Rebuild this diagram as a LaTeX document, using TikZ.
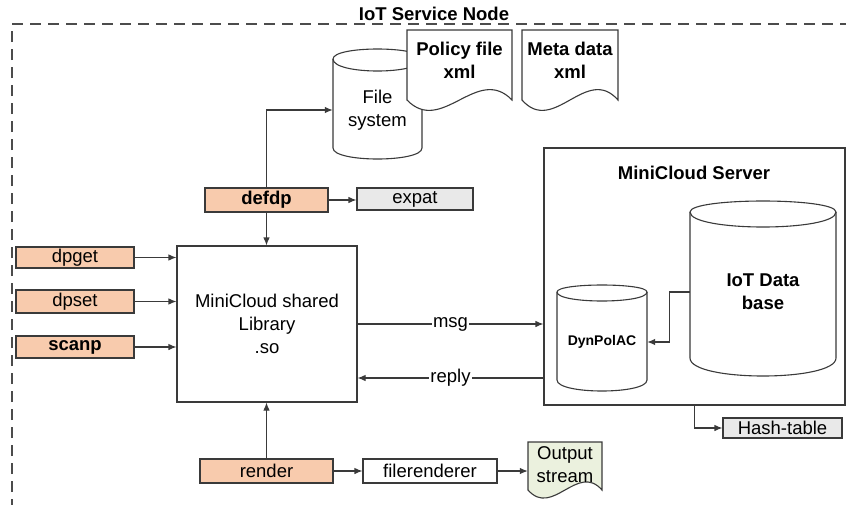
\documentclass[tikz,border=0pt]{standalone}
\usepackage{fontspec}
\setmainfont{Liberation Sans}
\usetikzlibrary{arrows.meta,calc,patterns}
\definecolor{orangefill}{HTML}{F8CBAD}
\definecolor{grayfill}{HTML}{E9E9E9}
\definecolor{greenfill}{HTML}{EBF1DE}
\definecolor{linec}{HTML}{3A3A3A}
\newcommand\drawcyl[7]{%
  \draw[ln,fill=white] (#1,#3) .. controls (#1,{#3-4/3*#4}) and (#2,{#3-4/3*#4}) .. (#2,#3)
     -- (#2,#6) .. controls (#2,{#6+4/3*#7}) and (#1,{#6+4/3*#7}) .. (#1,#6) -- cycle;
  \draw[ln] (#1,#3) .. controls (#1,{#3+4/3*#5}) and (#2,{#3+4/3*#5}) .. (#2,#3);}
\newcommand\drawdoc[6]{%
  \draw[ln,fill=#5] (#1,#3) -- (#2,#3) -- (#2,#4)
     .. controls ({#2-(#2-#1)*0.33},{#4-#6}) and ({#1+(#2-#1)*0.33},{#4+#6}) .. (#1,#4) -- cycle;}
\tikzset{
  ln/.style={draw=linec,line width=1.1pt},
  base/.style={font=\fontsize{18.5}{23}\selectfont,align=center,inner sep=0pt},
  box/.style={base,ln,rectangle},
  fn/.style={box,fill=orangefill},
  lib/.style={box,fill=grayfill},
  plain/.style={base,draw=none},
  arr/.style={ln,-{Latex[length=8pt,width=6.5pt]}},
  lbl/.style={base,fill=white,inner xsep=1pt,inner ysep=0pt},
}
\begin{document}
\begin{tikzpicture}[x=1pt,y=-1pt]
\useasboundingbox (0,0) rectangle (846,504);
% frame
\draw[draw=black!70,line width=1.6pt,dash pattern=on 11pt off 7pt] (12,510) -- (12,24) -- (850,24);
\node[plain,font=\fontsize{18.5}{23}\selectfont\bfseries] (title) at (434,14) {IoT Service Node};

% file system and documents
\drawcyl{333}{422}{59}{10}{12}{148}{11}
\node[plain,minimum width=89pt,minimum height=60pt] (fs) at (377.5,110) {File\\system};
\drawdoc{407}{512}{30}{100}{white}{36}
\node[plain,font=\fontsize{18.5}{23}\selectfont\bfseries] (policy) at (459.5,60) {Policy file\\xml};
\drawdoc{522}{618}{30}{100}{white}{36}
\node[plain,font=\fontsize{18.5}{23}\selectfont\bfseries] (meta) at (570,60) {Meta data\\xml};

% left functions
\node[fn,font=\fontsize{18.5}{23}\selectfont\bfseries,minimum width=123pt,minimum height=24pt] (defdp) at (266.5,200) {defdp};
\node[lib,minimum width=116pt,minimum height=22pt] (expat) at (415,199) {expat};
\node[box,fill=white,minimum width=180pt,minimum height=156pt] (lib) at (267,324) {MiniCloud shared\\Library\\.so};
\node[fn,minimum width=118pt,minimum height=21pt] (dpget) at (75,257.5) {dpget};
\node[fn,minimum width=118pt,minimum height=23pt] (dpset) at (75,301.5) {dpset};
\node[fn,font=\fontsize{18.5}{23}\selectfont\bfseries,minimum width=118pt,minimum height=22pt] (scanp) at (75,347) {scanp};
\node[fn,minimum width=133pt,minimum height=24pt] (render) at (266.5,471) {render};
\node[box,fill=white,minimum width=134pt,minimum height=24pt] (filer) at (430,471) {filerenderer};
\drawdoc{528}{602}{442}{490}{greenfill}{28}
\node[plain,minimum width=74pt,minimum height=40pt] (out) at (565,465) {Output\\stream};

% server
\node[box,fill=white,minimum width=301pt,minimum height=257pt] (server) at (694.5,276.5) {};
\node[plain,font=\fontsize{18.5}{23}\selectfont\bfseries] (srvtitle) at (694,173) {MiniCloud Server};
\drawcyl{690}{836}{212}{11}{15}{358}{18}
\node[plain,font=\fontsize{18.5}{23}\selectfont\bfseries,minimum width=146pt,minimum height=40pt] (db) at (763,292) {IoT Data\\base};
\drawcyl{557}{647}{292}{7}{9}{380}{11}
\node[plain,font=\fontsize{14}{16}\selectfont\bfseries,minimum width=90pt,minimum height=20pt] (dyn) at (602,342) {DynPolAC};
\node[lib,minimum width=119pt,minimum height=20pt] (hash) at (782.5,428) {Hash-table};

% connectors
\draw[arr] (defdp.north) |- (fs.west);
\draw[arr] (defdp.east) -- (defdp.east -| expat.west);
\draw[arr] (defdp.south) -- (defdp.south |- lib.north);
\draw[arr] (dpget.east) -- (dpget.east -| lib.west);
\draw[arr] (dpset.east) -- (dpset.east -| lib.west);
\draw[arr] (scanp.east) -- (scanp.east -| lib.west);
\draw[arr] (lib.east) -- node[lbl] {msg} (lib.east -| server.west);
\draw[arr] ([yshift=-54pt]lib.east -| server.west) -- node[lbl] {reply} ([yshift=-54pt]lib.east);
\draw[arr] (db.west) -- ++(-20,0) |- (dyn.east);
\draw[arr] (server.south) |- (hash.west);
\draw[arr] (render.north) -- (render.north |- lib.south);
\draw[arr] (render.east) -- (filer.west);
\draw[arr] (filer.east) -- (filer.east -| out.west);
\end{tikzpicture}
\end{document}
